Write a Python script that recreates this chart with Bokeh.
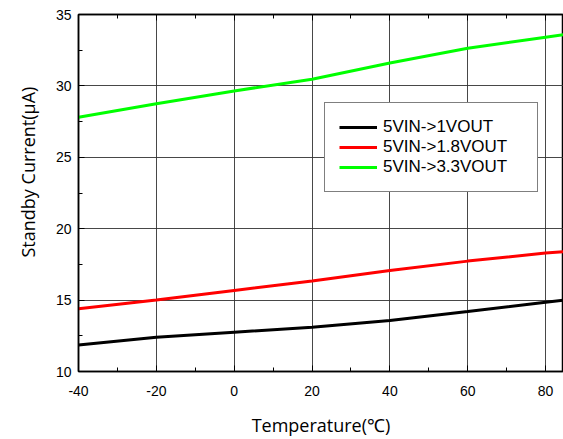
from bokeh.plotting import figure
from bokeh.models import (Range1d, SingleIntervalTicker, LinearAxis, Legend, LegendItem, Title,
                          CustomJSTickFormatter)
from bokeh.embed import file_html
from bokeh.resources import INLINE

# ---- data ----
temperature = [-40, -20, 0, 20, 40, 60, 80, 85]
i_5v_1v = [11.85, 12.4, 12.75, 13.1, 13.57, 14.2, 14.85, 15.0]
i_5v_18v = [14.4, 15.0, 15.68, 16.33, 17.08, 17.73, 18.3, 18.4]
i_5v_33v = [27.8, 28.75, 29.65, 30.47, 31.6, 32.64, 33.41, 33.6]
series_names = ["5VIN->1VOUT", "5VIN->1.8VOUT", "5VIN->3.3VOUT"]
series_colors = ["#000000", "#ff0000", "#00ff00"]
x_title = "Temperature(\u2103)"
y_title = "Standby Current(\u03bcA)"

p = figure(width=563, height=439, output_backend="svg", toolbar_location=None,
           x_range=Range1d(-40, 84.6), y_range=Range1d(10, 35),
           min_border_left=78, min_border_right=0, min_border_top=14, min_border_bottom=68)
p.outline_line_color = "black"
p.outline_line_width = 1.5

xt = SingleIntervalTicker(interval=20, num_minor_ticks=2)
yt = SingleIntervalTicker(interval=5, num_minor_ticks=2)
p.xaxis.ticker = xt
p.yaxis.ticker = yt
p.xgrid.ticker = xt
p.ygrid.ticker = yt
for g in (p.xgrid, p.ygrid):
    g.grid_line_color = "#333333"
    g.grid_line_width = 1
    g.grid_line_alpha = 0.9

hyphen_fmt = CustomJSTickFormatter(code="return String(tick).replace('\\u2212', '-');")
p.xaxis.formatter = hyphen_fmt

for ax in (p.xaxis, p.yaxis):
    ax.axis_line_color = "black"
    ax.axis_line_width = 1.5
    ax.major_tick_in = 6
    ax.major_tick_out = 0
    ax.minor_tick_in = 4
    ax.minor_tick_out = 0
    ax.major_tick_line_color = "black"
    ax.minor_tick_line_color = "black"
    ax.major_label_text_font = "Liberation Sans"
    ax.major_label_text_font_size = "14px"
    ax.major_label_text_color = "black"
p.xaxis.major_label_standoff = 14
p.yaxis.major_label_standoff = 7

p.xaxis.axis_label = x_title
p.xaxis.axis_label_text_font = "Open Sans"
p.xaxis.axis_label_text_font_size = "18px"
p.xaxis.axis_label_text_font_style = "normal"
p.xaxis.axis_label_text_color = "black"
p.xaxis.axis_label_standoff = 14

top = LinearAxis(ticker=xt, formatter=CustomJSTickFormatter(code="return '';"),
                 major_label_standoff=0,
                 major_tick_in=6, major_tick_out=0, minor_tick_in=4, minor_tick_out=0,
                 axis_line_width=1.5)
p.add_layout(top, "above")

ytitle = Title(text=y_title, align="left", offset=114, standoff=26,
               text_font="Open Sans", text_font_size="18px", text_font_style="normal",
               text_color="black")
p.add_layout(ytitle, "left")

renderers = []
for ys, c in zip([i_5v_1v, i_5v_18v, i_5v_33v], series_colors):
    r = p.line(temperature, ys, line_color=c, line_width=3)
    renderers.append(r)

legend = Legend(items=[LegendItem(label=n, renderers=[r]) for n, r in zip(series_names, renderers)],
                location=(246, 179), padding=14, spacing=0, margin=0,
                glyph_width=38, glyph_height=20, label_height=20, label_width=140,
                label_standoff=6, label_text_font="Liberation Sans", label_text_font_size="17px",
                label_text_color="black",
                border_line_color="black", border_line_width=1, background_fill_alpha=1)
p.add_layout(legend, "center")

open("out.html", "w").write(file_html(p, INLINE))
